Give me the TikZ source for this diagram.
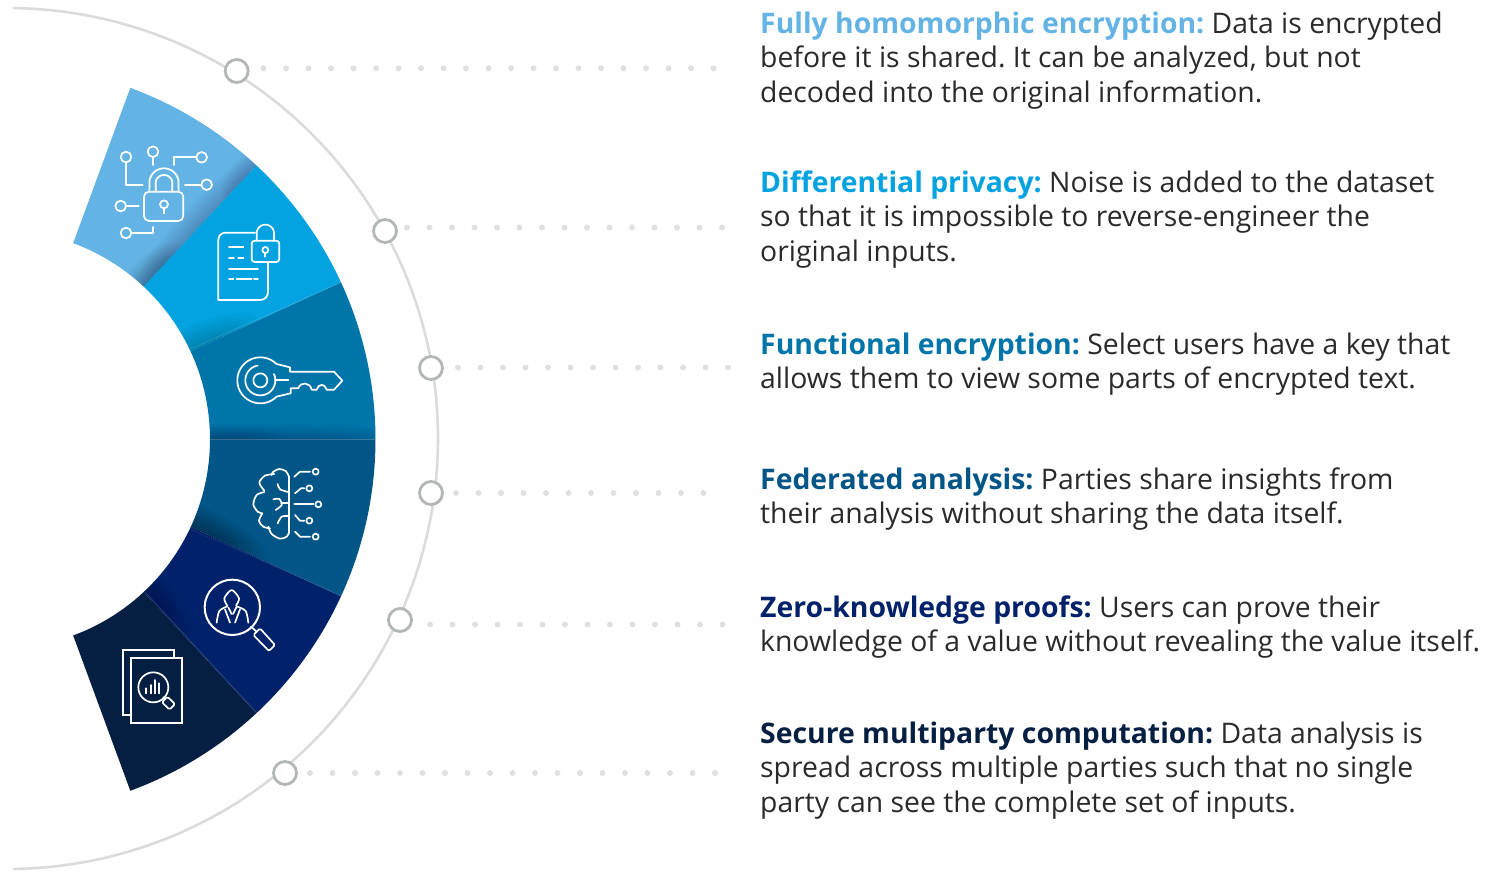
\documentclass[tikz,border=0pt]{standalone}
\usepackage{fontspec}
\setmainfont{Open Sans}
\frenchspacing
\definecolor{cA}{HTML}{63B3E5}
\definecolor{cB}{HTML}{02A3E0}
\definecolor{cC}{HTML}{0075A9}
\definecolor{cD}{HTML}{015587}
\definecolor{cE}{HTML}{01216A}
\definecolor{cF}{HTML}{051F42}
\definecolor{bodytext}{HTML}{2A2A2C}
\definecolor{ringc}{HTML}{DADBDB}
\definecolor{knob}{HTML}{B3B6B6}
\definecolor{dotc}{HTML}{DFE0E0}
\newcommand\parc[5]{plot[domain=#4:#5,samples=60] ({#1+#3*cos(\x)},{#2+#3*sin(\x)})}
\newcommand\lparc[5]{-- plot[domain=#4:#5,samples=60] ({#1+#3*cos(\x)},{#2+#3*sin(\x)})}
\newcommand\sectorpath[2]{\parc{1}{439.3}{374.5}{#1}{#2} \lparc{1}{439.3}{209}{#2}{#1} -- cycle}
\newcommand\band[7]{\foreach \k in {1,...,#6}{\fill[black,opacity=#7,shift={(#1,#2)},rotate=#3] (0,0) ellipse [x radius={#4*(.35+.65*\k/#6)},y radius={#5*\k/#6}];}}
\tikzset{
  x=1pt,y=-1pt,
  knobring/.style={circle,draw=knob,line width=2.8pt,fill=white,minimum size=23pt,inner sep=0pt},
  dotrow/.style={draw=dotc,line width=6pt,line cap=round,dash pattern=on 0pt off 22.5pt},
  ic/.style={draw=white,line width=1.7pt,line cap=round,line join=round},
  para/.style={anchor=north west,inner sep=0pt,align=left,text=bodytext,font=\fontsize{28.35}{34.4}\selectfont},
}
\newcommand\fl{\rule{0pt}{24pt}}
\begin{document}
\begin{tikzpicture}
\useasboundingbox (0,0) rectangle (1486,873);
% drop shadow
\begin{scope}
\clip (2,439) -- (130,88) -- (1000,88) -- (1000,790) -- (130,790) -- cycle;
\foreach \k in {1,...,50}{\fill[black,opacity=.0016] ({1+2.2*\k},439) circle ({374.5-1.5*\k});}
\end{scope}
\fill[white] (1,439.3) circle (209);
% outer ring
\draw[ringc,line width=2.6pt] plot[domain=-89.3:89.3,samples=180] ({7.5+430.5*cos(\x)},{438.5+430.5*sin(\x)});
% sectors
\fill[cA] \sectorpath{-69.8}{-47};
\fill[cB] \sectorpath{-47}{-24.8};
\fill[cC] \sectorpath{-24.8}{0};
\fill[cD] \sectorpath{0}{24.8};
\fill[cE] \sectorpath{24.8}{47};
\fill[cF] \sectorpath{47}{69.8};
% inner shadings
\begin{scope}\clip \sectorpath{-69.8}{-47};
\band{201}{226}{47.5}{110}{22}{20}{.009}
\band{150}{282}{47.5}{50}{24}{15}{.015}
\band{250}{172}{47.5}{40}{18}{12}{.006}
\end{scope}
\begin{scope}\clip \sectorpath{-47}{-24.8};
\band{195}{347}{23.5}{70}{22}{15}{.012}
\end{scope}
\begin{scope}\clip \sectorpath{-24.8}{0};
\band{280}{439.3}{0}{140}{16}{15}{.012}
\band{215}{439.3}{0}{70}{16}{10}{.012}
\end{scope}
\begin{scope}\clip \sectorpath{0}{24.8};
\band{195}{527}{-24}{80}{22}{15}{.018}
\end{scope}
\begin{scope}\clip \sectorpath{24.8}{47};
\band{150}{592}{-47}{60}{18}{10}{.015}
\end{scope}
% seams
\draw[white,opacity=.18,line width=.5pt] (190,349) -- (342,282);
\draw[white,opacity=.2,line width=.5pt] (145,592) -- (257,713);
\draw[white,opacity=.12,line width=.5pt] (190,529) -- (342,596);
% connectors
\node[knobring] (k1) at (236.7,71) {};
\node[knobring] (k2) at (385,231) {};
\node[knobring] (k3) at (431,368) {};
\node[knobring] (k4) at (431,493) {};
\node[knobring] (k5) at (400,620) {};
\node[knobring] (k6) at (285,773) {};
\coordinate (s1) at (263.5,68.3); \coordinate (e1) at (715,68.3);
\coordinate (s2) at (407,227.5); \coordinate (e2) at (723,227.5);
\coordinate (s3) at (458,367.5); \coordinate (e3) at (729,367.5);
\coordinate (s4) at (456,493); \coordinate (e4) at (705,493);
\coordinate (s5) at (430,624.5); \coordinate (e5) at (723,624.5);
\coordinate (s6) at (310,773); \coordinate (e6) at (716,773);
\foreach \i in {1,...,6}{\draw[dotrow] (s\i) -- (e\i);}
% texts
\node[para] (t1) at (760,9) {\fl\textbf{\textcolor{cA}{Fully homomorphic encryption:}} Data is encrypted\\before it is shared. It can be analyzed, but not\\decoded into the original information.};
\node[para] (t2) at (760,168) {\fl\textbf{\textcolor{cB}{Differential privacy:}} Noise is added to the dataset\\so that it is impossible to reverse-engineer the\\original inputs.};
\node[para] (t3) at (760,330) {\fl\textbf{\textcolor{cC}{Functional encryption:}} Select users have a key that\\allows them to view some parts of encrypted text.};
\node[para] (t4) at (760,465) {\fl\textbf{\textcolor{cD}{Federated analysis:}} Parties share insights from\\their analysis without sharing the data itself.};
\node[para] (t5) at (760,593) {\fl\textbf{\textcolor{cE}{Zero-knowledge proofs:}} Users can prove their\\knowledge of a value without revealing the value itself.};
\node[para] (t6) at (760,719) {\fl\textbf{\textcolor{cF}{Secure multiparty computation:}} Data analysis is\\spread across multiple parties such that no single\\party can see the complete set of inputs.};
% icon 1 + 2 + (zoom frame 1)
\begin{scope}[shift={(60,80)},scale=1/3]
\draw[ic,rounded corners=5pt] (252,335) rectangle (370,423);
\draw[ic] (268,335) \lparc{312}{309}{44}{-170}{-10} -- (356,335);
\draw[ic] (287,335) -- (287,310) \lparc{312}{310}{25}{-180}{0} -- (337,335);
\draw[ic] (312,373) circle (12);
\draw[ic] (312,385) -- (312,400);
\draw[ic] (198,231) circle (16);
\draw[ic] (198,247) -- (198,314) -- (248,314);
\draw[ic] (279,215) circle (16);
\draw[ic] (279,231) -- (279,255);
\draw[ic] (425,232) circle (16);
\draw[ic] (409,232) -- (342,232) -- (342,255);
\draw[ic] (440,314) circle (16);
\draw[ic] (424,314) -- (375,314);
\draw[ic] (182,378) circle (16);
\draw[ic] (198,378) -- (236,378);
\draw[ic] (198,459) circle (16);
\draw[ic] (214,459) -- (280,459) -- (280,441);
% document
\draw[ic] (585,458) -- (497,458) .. controls (484,458) and (475,467) .. (475,480) -- (475,660) -- (600,660) .. controls (614,660) and (624,650) .. (624,636) -- (624,548);
\draw[ic] (507,502) -- (550,502);
\draw[ic] (507,534) -- (522,534);
\draw[ic] (535,534) -- (550,534);
\draw[ic] (507,566) -- (594,566);
\draw[ic] (507,598) -- (520,598);
\draw[ic] (530,598) -- (575,598);
\draw[ic] (582,598) -- (594,598);
\draw[ic,rounded corners=3pt] (575,482) rectangle (658,546);
\draw[ic] (590,482) -- (590,460) \lparc{616}{460}{26}{-180}{0} -- (642,482);
\draw[ic] (616,510) circle (9);
\draw[ic] (616,519) -- (616,530);
\end{scope}
% key (zoom frame 4)
\begin{scope}[shift={(230,350)},scale=1/3]
\draw[ic] (180,52) -- (140,42) \lparc{91}{91}{69}{-45}{-315} -- (182,130) -- (182,115) -- (205,115) .. controls (210,95) and (240,95) .. (245,119) -- (260,119) .. controls (265,100) and (285,100) .. (290,119) -- (312,119) -- (337,92) -- (312,65) -- (180,65) -- cycle;
\draw[ic] \parc{91}{91}{45}{-100}{-385};
\draw[ic] (91,91) circle (21);
\draw[ic] (135,91) -- (175,91);
\end{scope}
% brain (zoom frame 5)
\begin{scope}[shift={(245,460)},scale=1/3]
\draw[ic] (132,50) -- (132,218);
\draw[ic] plot[smooth] coordinates {(132,50) (122,33) (102,27) (84,36) (80,45)};
\draw[ic] plot[smooth] coordinates {(88,42) (60,47) (43,68) (58,92)};
\draw[ic] plot[smooth] coordinates {(58,96) (35,105) (25,133) (38,155) (52,160)};
\draw[ic] plot[smooth] coordinates {(52,160) (42,182) (55,200) (75,205)};
\draw[ic] plot[smooth] coordinates {(70,200) (80,222) (105,236) (125,230) (132,218)};
\draw[ic] plot[smooth] coordinates {(98,72) (105,88) (130,96)};
\draw[ic] plot[smooth] coordinates {(85,118) (103,117) (110,135) (92,150)};
\draw[ic] (109,130) -- (132,130);
\draw[ic] plot[smooth] coordinates {(131,168) (110,170) (98,190)};
\draw[ic] (148,50) -- (165,35) -- (195,35);
\draw[ic] (212,35) circle (9);
\draw[ic] (150,100) -- (168,85) -- (178,85);
\draw[ic] (193,85) circle (9);
\draw[ic] (148,133) -- (205,133);
\draw[ic] (220,133) circle (9);
\draw[ic] (150,165) -- (165,182) -- (178,182);
\draw[ic] (193,182) circle (9);
\draw[ic] (150,215) -- (165,230) -- (195,230);
\draw[ic] (212,230) circle (9);
\end{scope}
% person search (zoom frame 6)
\begin{scope}[shift={(195,570)},scale=1/3]
\draw[ic,line width=2pt] (112,112) circle (83);
\draw[ic] (168,170) -- (185,185);
\draw[ic,rounded corners=1.5pt] (175,195) -- (195,175) -- (240,225) -- (222,243) -- cycle;
\draw[ic] plot[smooth] coordinates {(97,107) (88,85) (110,60) (132,85) (123,107)};
\draw[ic] plot[smooth] coordinates {(65,158) (73,123) (97,109)};
\draw[ic] plot[smooth] coordinates {(160,158) (152,123) (125,109)};
\draw[ic] (90,118) -- (105,158);
\draw[ic] (135,118) -- (120,158);
\draw[ic] (100,112) -- (110,132);
\draw[ic] (124,112) -- (114,132);
\end{scope}
% documents (zoom frame 7)
\begin{scope}[shift={(110,640)},scale=1/3]
\draw[ic,line join=miter] (60,226) -- (38,226) -- (38,30) -- (192,30) -- (192,52);
\draw[ic,line join=miter] (62,54) rectangle (215,248);
\draw[ic] (130,142) circle (45);
\draw[ic] (108,145) -- (108,160);
\draw[ic] (122,135) -- (122,160);
\draw[ic] (135,120) -- (135,160);
\draw[ic] (148,130) -- (148,160);
\draw[ic] (160,172) -- (166,178);
\draw[ic,rounded corners=1.5pt] (156,187) -- (172,170) -- (195,192) -- (179,209) -- cycle;
\end{scope}
\end{tikzpicture}
\end{document}
